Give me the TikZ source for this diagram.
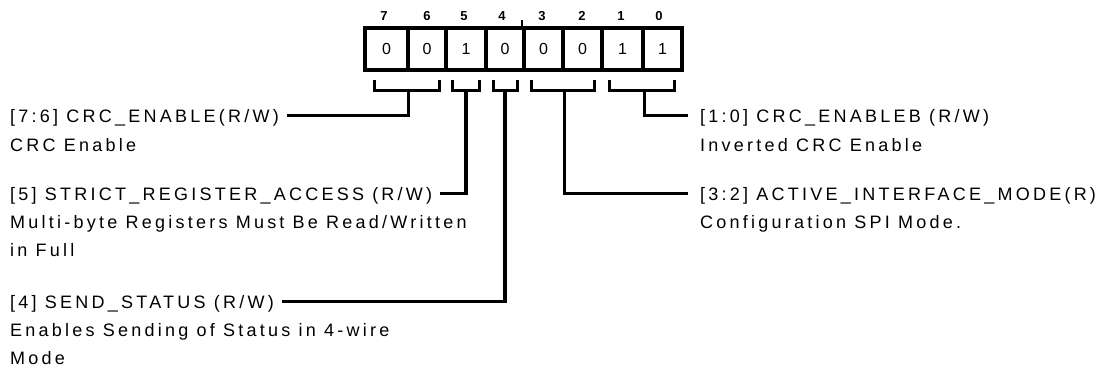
\documentclass[tikz,border=0pt]{standalone}
\usepackage{fontspec}
\setmainfont{Liberation Sans}
\newfontfamily\lblfont{Liberation Sans}[LetterSpace=18]
\newfontfamily\bitfont{Liberation Sans}
\begin{document}
\begin{tikzpicture}[x=1pt,y=-1pt,
  cell/.style={draw, line width=3.2pt, minimum height=42pt, inner sep=0pt,
    font=\bitfont\fontsize{16}{16}\selectfont},
  bitno/.style={inner sep=0pt, font=\bitfont\bfseries\fontsize{13}{13}\selectfont},
  hdrL/.style={anchor=base west, inner ysep=0pt, inner xsep=8pt, text height=13pt,
    text depth=0pt, font=\lblfont\fontsize{18}{28}\selectfont},
  hdrR/.style={anchor=base west, inner ysep=0pt, inner xsep=12pt, text height=13pt,
    text depth=0pt, font=\lblfont\fontsize{18}{28}\selectfont},
  desc/.style={anchor=base west, inner sep=0pt, font=\lblfont\fontsize{18}{28}\selectfont},
  wire/.style={line width=3.2pt, line join=miter}
]
\fill[white] (0,0) rectangle (1099,376);
\useasboundingbox (0,0) rectangle (1099,376);

% register cells
\node[cell, minimum width=43pt] (c7) at (386.5,49) {0};
\node[cell, minimum width=38pt] (c6) at (427,49) {0};
\node[cell, minimum width=40pt] (c5) at (466,49) {1};
\node[cell, minimum width=38pt] (c4) at (505,49) {0};
\node[cell, minimum width=39pt] (c3) at (543.5,49) {0};
\node[cell, minimum width=39pt] (c2) at (582.5,49) {0};
\node[cell, minimum width=41pt] (c1) at (622.5,49) {1};
\node[cell, minimum width=39pt] (c0) at (662.5,49) {1};

% bit numbers
\node[bitno] (n7) at (384,16) {7};
\node[bitno] (n6) at (427,16) {6};
\node[bitno] (n5) at (464,16) {5};
\node[bitno] (n4) at (502,16) {4};
\node[bitno] (n3) at (542,16) {3};
\node[bitno] (n2) at (582,16) {2};
\node[bitno] (n1) at (621,16) {1};
\node[bitno] (n0) at (659,16) {0};

\draw[line width=2pt] (c3.north west) -- ++(0,-6);

% labels
\node[hdrL] (h76) at (2,122) {[7:6] CRC\_ENABLE(R/W)};
\node[desc] (d76) at (10,151) {CRC Enable};
\node[hdrL] (h5) at (2,200) {[5] STRICT\_REGISTER\_ACCESS (R/W)};
\node[desc] (d5) at (10,228) {\vtop{\hbox{Multi-byte Registers Must Be Read/Written}\hbox{in Full}}};
\node[hdrL] (h4) at (2,308) {[4] SEND\_STATUS (R/W)};
\node[desc] (d4) at (10,336) {\vtop{\hbox{Enables Sending of Status in 4-wire}\hbox{Mode}}};
\node[hdrR] (h10) at (688,122) {[1:0] CRC\_ENABLEB (R/W)};
\node[desc] (d10) at (700,151) {Inverted CRC Enable};
\node[hdrR] (h32) at (688,200) {[3:2] ACTIVE\_INTERFACE\_MODE(R)};
\node[desc] (d32) at (700,228) {Configuration SPI Mode.};

% brackets
\draw[wire] ([xshift=11pt,yshift=-8pt]c7.south west) -- ++(0,11) -| ([xshift=-8pt,yshift=-8pt]c6.south east);
\draw[wire] ([xshift=8pt,yshift=-8pt]c5.south west) -- ++(0,11) -| ([xshift=-8pt,yshift=-8pt]c5.south east);
\draw[wire] ([xshift=9pt,yshift=-8pt]c4.south west) -- ++(0,11) -| ([xshift=-8pt,yshift=-8pt]c4.south east);
\draw[wire] ([xshift=9pt,yshift=-8pt]c3.south west) -- ++(0,11) -| ([xshift=-9pt,yshift=-8pt]c2.south east);
\draw[wire] ([xshift=9pt,yshift=-8pt]c1.south west) -- ++(0,11) -| ([xshift=-9pt,yshift=-8pt]c0.south east);

% stems to labels
\draw[wire] ([xshift=-1pt,yshift=-19pt]c7.south east) |- (h76.east);
\draw[wire] ([yshift=-19pt]c5.south) |- (h5.east);
\draw[wire] ([yshift=-19pt]c4.south) |- (h4.east);
\draw[wire] ([yshift=-19pt]c3.south east) |- (h32.west);
\draw[wire] ([yshift=-19pt]c1.south east) |- (h10.west);
\end{tikzpicture}
\end{document}
